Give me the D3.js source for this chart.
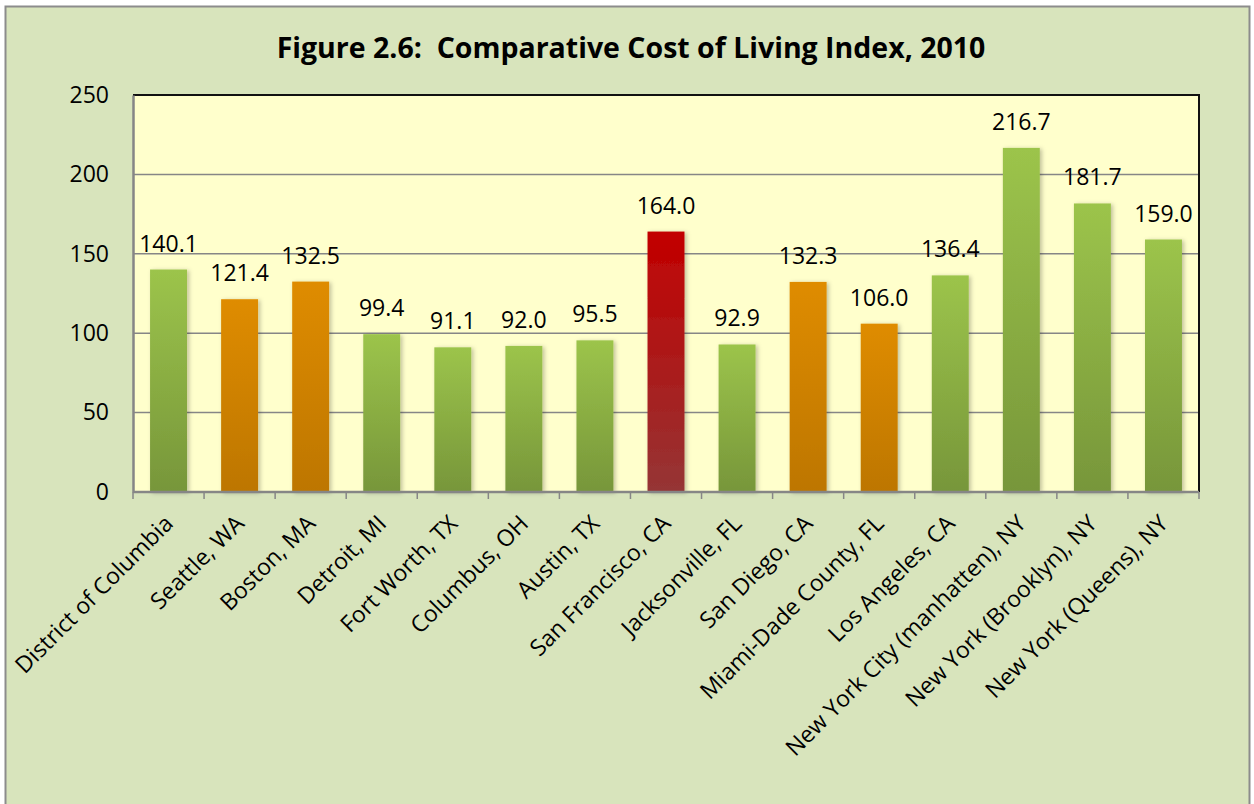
<!DOCTYPE html>
<html>
<head>
<meta charset="utf-8">
<script src="https://cdn.jsdelivr.net/npm/d3@7"></script>
<style>
  body { margin: 0; background: #fff; }
  svg text { font-family: "Open Sans", sans-serif; fill: #000; }
</style>
</head>
<body>
<div id="chart"></div>
<script>
// Chart data
const cities = [
  "District of Columbia", "Seattle, WA", "Boston, MA", "Detroit, MI",
  "Fort Worth, TX", "Columbus, OH", "Austin, TX", "San Francisco, CA",
  "Jacksonville, FL", "San Diego, CA", "Miami-Dade County, FL",
  "Los Angeles, CA", "New York City (manhatten), NY",
  "New York (Brooklyn), NY", "New York (Queens), NY"
];
const costIndex = [140.1, 121.4, 132.5, 99.4, 91.1, 92.0, 95.5, 164.0,
                   92.9, 132.3, 106.0, 136.4, 216.7, 181.7, 159.0];
// bar colour group for each city
const barGroup = ["green", "orange", "orange", "green", "green", "green", "green", "red",
                  "green", "orange", "orange", "green", "green", "green", "green"];
const yTicks = [0, 50, 100, 150, 200, 250];
const title = "Figure 2.6:  Comparative Cost of Living Index, 2010";

const width = 1254, height = 804;
const plot = {left: 133, right: 1199, top: 95, bottom: 492};

const svg = d3.select("#chart").append("svg")
  .attr("width", width)
  .attr("height", height);

const defs = svg.append("defs");

// gradients for the three bar colours
const gradColors = {
  green: ["#9cc44b", "#77963a"],
  orange: ["#df8c00", "#bd7602"],
  red: ["#c20000", "#953535"]
};
Object.entries(gradColors).forEach(([k, c]) => {
  const g = defs.append("linearGradient")
    .attr("id", "grad-" + k)
    .attr("x1", 0).attr("y1", 0).attr("x2", 0).attr("y2", 1);
  g.append("stop").attr("offset", "0%").attr("stop-color", c[0]);
  g.append("stop").attr("offset", "100%").attr("stop-color", c[1]);
});

defs.append("filter").attr("id", "shadow")
  .attr("x", "-20%").attr("y", "-5%").attr("width", "150%").attr("height", "115%")
  .append("feDropShadow")
  .attr("dx", 2).attr("dy", 1).attr("stdDeviation", 2)
  .attr("flood-color", "#000").attr("flood-opacity", 0.25);

// outer chart area
svg.append("rect")
  .attr("x", 5.5).attr("y", 6.5)
  .attr("width", 1244).attr("height", 820)
  .attr("fill", "#d8e4bc")
  .attr("stroke", "#8c8c8c")
  .attr("stroke-width", 2);

// title (keep the double space after the colon)
svg.append("text")
  .attr("x", 631)
  .attr("y", 58)
  .attr("text-anchor", "middle")
  .attr("font-size", "28.5px")
  .attr("font-weight", "bold")
  .style("white-space", "pre")
  .text(title);

// scales
const xScale = d3.scaleBand()
  .domain(cities)
  .range([plot.left, plot.right])
  .paddingInner(0.48)
  .paddingOuter(0.24);

const yScale = d3.scaleLinear()
  .domain([0, 250])
  .range([plot.bottom, plot.top]);

// plot area
svg.append("rect")
  .attr("x", plot.left).attr("y", plot.top)
  .attr("width", plot.right - plot.left)
  .attr("height", plot.bottom - plot.top)
  .attr("fill", "#ffffcc");

// gridlines
svg.append("g")
  .selectAll("line")
  .data(yTicks.filter(d => d > 0 && d < 250))
  .join("line")
  .attr("x1", plot.left).attr("x2", plot.right)
  .attr("y1", d => yScale(d)).attr("y2", d => yScale(d))
  .attr("stroke", "#868686")
  .attr("stroke-width", 1.5);

// plot border top & right
svg.append("path")
  .attr("d", `M${plot.left},${plot.top}H${plot.right}V${plot.bottom}`)
  .attr("fill", "none")
  .attr("stroke", "#111")
  .attr("stroke-width", 2);

// bars
svg.append("g")
  .selectAll("rect")
  .data(cities)
  .join("rect")
  .attr("x", d => xScale(d))
  .attr("y", (d, i) => yScale(costIndex[i]))
  .attr("width", xScale.bandwidth())
  .attr("height", (d, i) => yScale(0) - yScale(costIndex[i]))
  .attr("fill", (d, i) => `url(#grad-${barGroup[i]})`)
  .attr("filter", "url(#shadow)");

// value labels
svg.append("g")
  .selectAll("text")
  .data(cities)
  .join("text")
  .attr("x", d => xScale(d) + xScale.bandwidth() / 2)
  .attr("y", (d, i) => yScale(costIndex[i]) - 18)
  .attr("text-anchor", "middle")
  .attr("font-size", "23px")
  .text((d, i) => d3.format(".1f")(costIndex[i]));

// y axis
const yAxis = svg.append("g")
  .attr("transform", `translate(${plot.left},0)`)
  .call(d3.axisLeft(yScale).tickValues(yTicks).tickSize(0).tickPadding(24));
yAxis.select(".domain").attr("stroke", "#868686").attr("stroke-width", 2.5);
yAxis.selectAll("text")
  .attr("font-size", "23px")
  .attr("font-family", "Open Sans, sans-serif")
  .attr("fill", "#000");

// x axis line and tick marks at category boundaries
const step = xScale.step();
const bounds = d3.range(cities.length + 1).map(i => plot.left + i * step);
svg.append("line")
  .attr("x1", plot.left).attr("x2", plot.right)
  .attr("y1", plot.bottom).attr("y2", plot.bottom)
  .attr("stroke", "#868686")
  .attr("stroke-width", 2.5);
svg.append("g")
  .selectAll("line")
  .data(bounds)
  .join("line")
  .attr("x1", d => d).attr("x2", d => d)
  .attr("y1", plot.bottom).attr("y2", plot.bottom + 7)
  .attr("stroke", "#868686")
  .attr("stroke-width", 1.5);

// rotated category labels
svg.append("g")
  .selectAll("text")
  .data(cities)
  .join("text")
  .attr("text-anchor", "end")
  .attr("font-size", "23px")
  .attr("transform", d => `translate(${xScale(d) + xScale.bandwidth() / 2 + 6},${plot.bottom + 33}) rotate(-45)`)
  .text(d => d);
</script>
</body>
</html>
